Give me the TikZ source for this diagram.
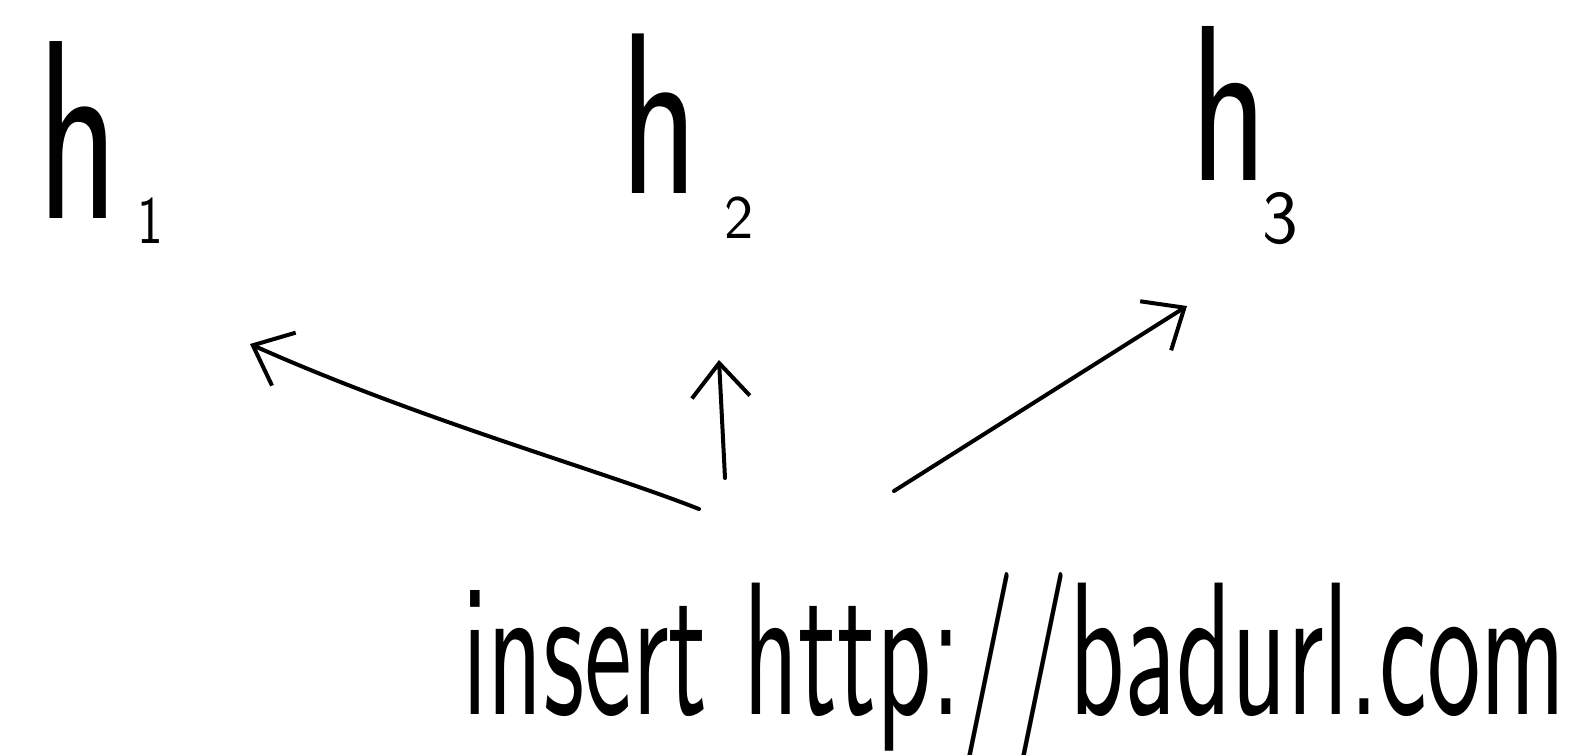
\documentclass[tikz,border=0pt]{standalone}
\usepackage{graphicx}
\usetikzlibrary{arrows.meta}
\tikzset{
  hlab/.style={inner sep=0pt, anchor=base west, font=\sffamily},
  arr/.style={line width=4pt, -{Straight Barb[length=34pt,width=58pt,line width=4pt]}, line cap=round},
}
\begin{document}
\begin{tikzpicture}[x=1pt,y=-1pt]
\useasboundingbox (0,0) rectangle (1588,755);
\node[hlab] (h1) at (37,218) {\scalebox{0.66}[1]{\fontsize{255}{255}\selectfont h}\kern-25pt};
\node[hlab] (d1) at (137,243) {\scalebox{0.8}[1]{\fontsize{68}{68}\selectfont 1}};
\node[hlab] (h2) at (620,193) {\scalebox{0.7}[1]{\fontsize{230}{230}\selectfont h}\kern-25pt};
\node[hlab] (d2) at (724,238) {\fontsize{62}{62}\selectfont 2};
\node[hlab] (h3) at (1190,180) {\scalebox{0.72}[1]{\fontsize{222}{222}\selectfont h}\kern-30pt};
\node[hlab] (d3) at (1262,243) {\fontsize{76}{76}\selectfont 3};
\node[hlab] (txt) at (462,714) {\resizebox{1103pt}{142pt}{\sffamily insert http://badurl.com}};
\coordinate (s1) at (699,509);
\coordinate (s2) at (725,478);
\coordinate (s3) at (894,491);
\coordinate (t1) at (250,344);
\coordinate (t2) at (719,360);
\coordinate (t3) at (1187,306);
\draw[arr] (s1) .. controls (600,470) and (420,420) .. (t1);
\draw[arr] (s2) -- (t2);
\draw[arr] (s3) -- (t3);
\end{tikzpicture}
\end{document}
